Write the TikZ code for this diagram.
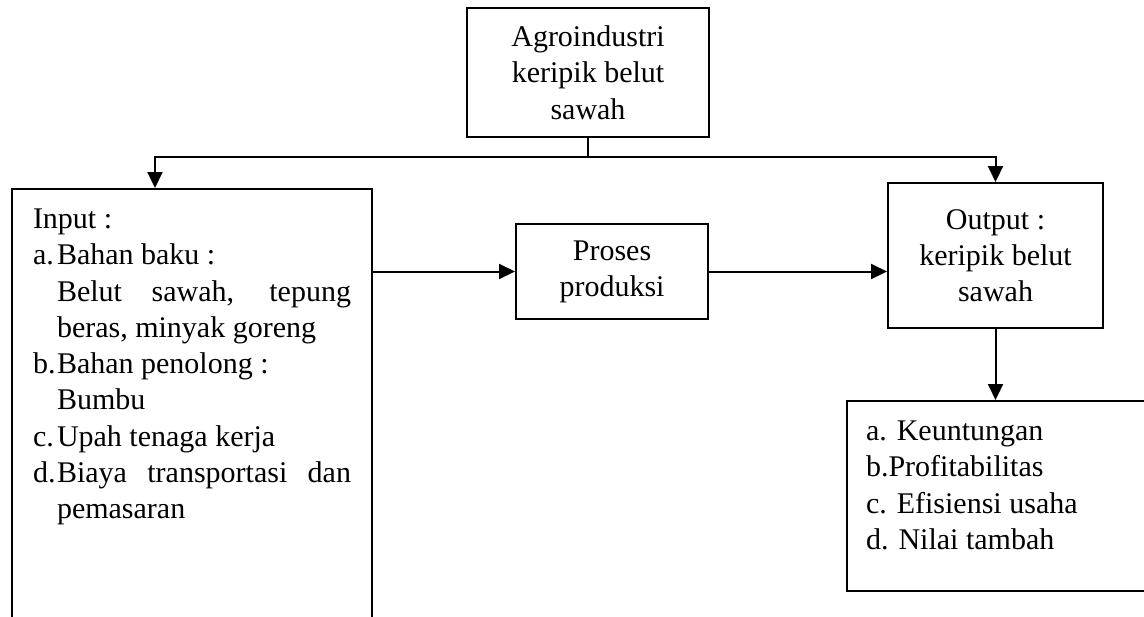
\documentclass[tikz,border=0pt]{standalone}
\usepackage{fontspec}
\setmainfont{Liberation Serif}
\usetikzlibrary{arrows.meta,positioning}

\newcommand{\butir}[2]{\par\hangindent=9.6pt\hangafter=1\noindent\makebox[9.6pt][l]{#1}#2}

\tikzset{
  kotak/.style={draw, line width=0.8pt, inner sep=0pt, align=center},
  panah/.style={line width=0.8pt, -{Triangle[length=6.4pt,width=6pt]}},
  garis/.style={line width=0.8pt}
}

\begin{document}
\begin{tikzpicture}[x=0.4pt, y=-0.4pt,
    every node/.style={font=\fontsize{12pt}{14.5pt}\selectfont}]
  \useasboundingbox (0,0) rectangle (1144,616);
  \clip (0,0) rectangle (1144,616);

  \node[kotak, minimum width=96.8pt, minimum height=51.6pt] (agro) at (588,72.5)
    {Agroindustri\\keripik belut\\sawah};
  \node[kotak, anchor=north west, text width=127.2pt, align=justify,
        inner xsep=8.4pt, inner ysep=8pt] (input) at (11,188)
    {Input :%
     \butir{a.}{Bahan baku :\newline Belut sawah, tepung\linebreak beras, minyak goreng}%
     \butir{b.}{Bahan penolong :\newline Bumbu}%
     \butir{c.}{Upah tenaga kerja}%
     \butir{d.}{Biaya transportasi dan\linebreak pemasaran\rule[-60pt]{0pt}{0pt}}\par};
  \node[kotak, minimum width=76.8pt, minimum height=38pt] (proses) at (612,271.5)
    {Proses\\produksi};
  \node[kotak, minimum width=86pt, minimum height=58pt] (output) at (995.5,255.5)
    {Output :\\keripik belut\\sawah};
  \node[kotak, anchor=north west, text width=110pt, align=flush left,
        inner xsep=7.6pt, inner ysep=8pt] (hasil) at (846,400)
    {a. Keuntungan\par b.Profitabilitas\par c. Efisiensi usaha\par
     d. Nilai tambah\rule[-8.8pt]{0pt}{0pt}};

  % percabangan dari agroindustri
  \coordinate (cabang) at (agro.south |- 0,157);
  \coordinate (kiri) at (155,157);
  \coordinate (kanan) at (output.north |- cabang);
  \draw[garis] (agro.south) -- (cabang);
  \draw[panah] (cabang) -- (kiri) -- (kiri |- input.north);
  \draw[panah] (cabang) -- (kanan) -- (output.north);

  % alur produksi
  \draw[panah] (input.east |- proses.west) -- (proses.west);
  \draw[panah] (proses.east) -- (proses.east -| output.west);
  \draw[panah] (output.south) -- (output.south |- hasil.north);
\end{tikzpicture}
\end{document}
